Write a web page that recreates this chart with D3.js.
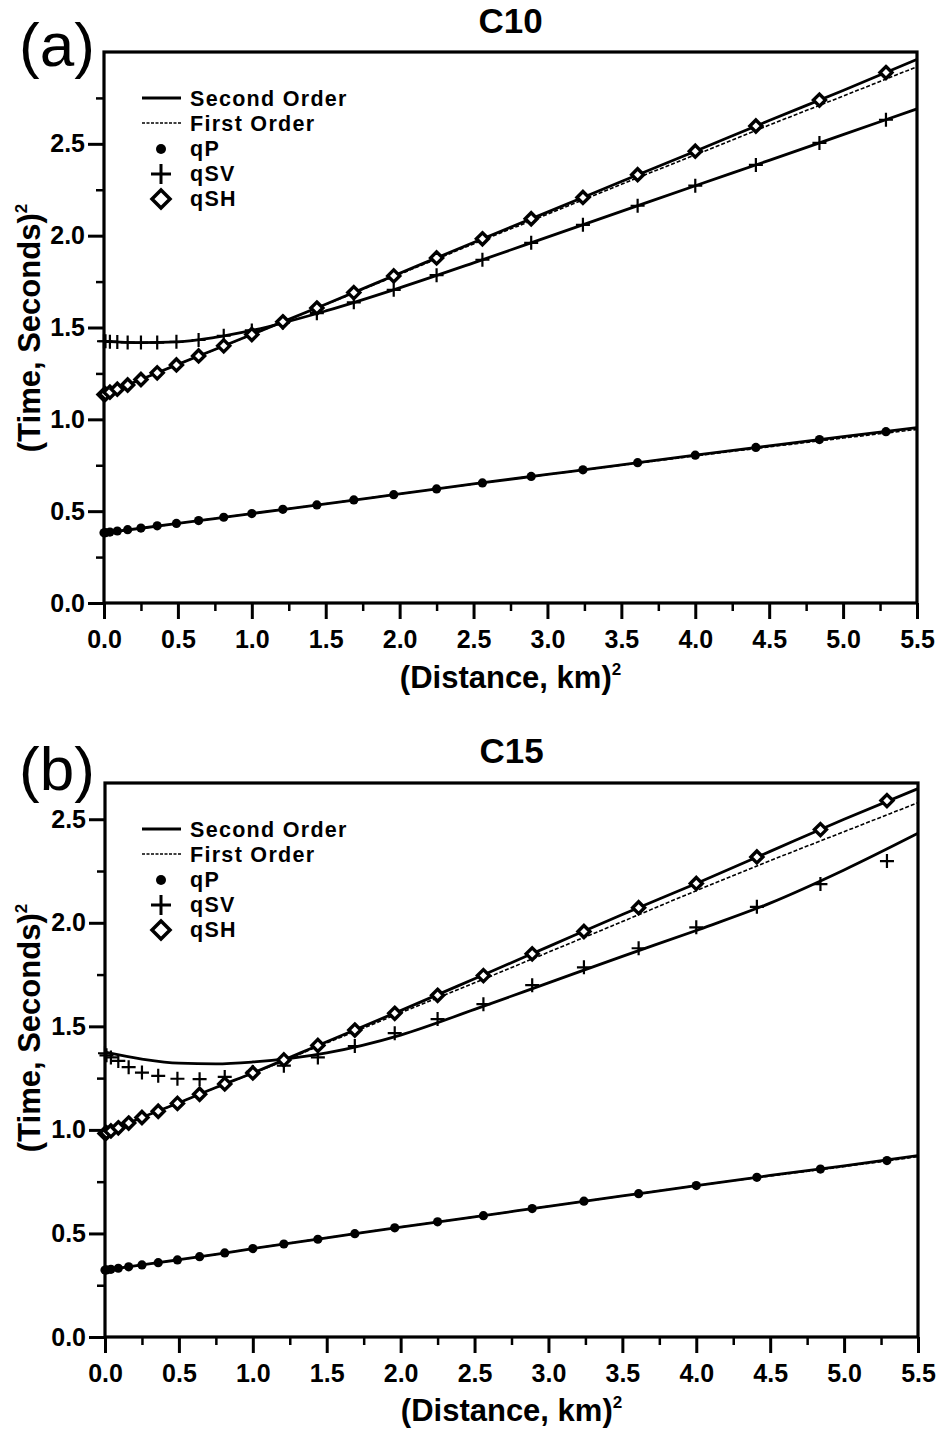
<!DOCTYPE html>
<html>
<head>
<meta charset="utf-8">
<style>
  body { margin: 0; background: #fff; }
  text { font-family: "Liberation Sans", Arial, sans-serif; fill: #000; }
</style>
</head>
<body>
<svg width="938" height="1431"></svg>
<script src="https://d3js.org/d3.v7.min.js"></script>
<script>
  // x positions of modelled traces: (offset, km)^2
  const xMarks = [0, 0.01, 0.04, 0.09, 0.16, 0.25, 0.36, 0.49, 0.64, 0.81, 1.0, 1.21,
    1.44, 1.69, 1.96, 2.25, 2.56, 2.89, 3.24, 3.61, 4.0, 4.41, 4.84, 5.29];
  // x positions where the approximation curves were read
  const xCurve = [0, 0.25, 0.5, 0.75, 1.0, 1.5, 2.0, 2.5, 3.0, 3.5, 4.0, 4.5, 5.0, 5.5];

  const xTicks = [0, 0.5, 1.0, 1.5, 2.0, 2.5, 3.0, 3.5, 4.0, 4.5, 5.0, 5.5];
  const yTicks = [0, 0.5, 1.0, 1.5, 2.0, 2.5];
  const legendItems = ["Second Order", "First Order", "qP", "qSV", "qSH"];

  // ---- C10 ----
  const c10_qP = [0.382, 0.383, 0.386, 0.392, 0.399, 0.408, 0.42, 0.433, 0.449, 0.467, 0.487, 0.51,
    0.534, 0.561, 0.59, 0.621, 0.654, 0.689, 0.725, 0.764, 0.805, 0.847, 0.89, 0.933];
  const c10_qSV = [1.425, 1.425, 1.423, 1.421, 1.419, 1.418, 1.418, 1.422, 1.432, 1.455, 1.484, 1.527,
    1.578, 1.637, 1.705, 1.785, 1.869, 1.961, 2.059, 2.163, 2.272, 2.385, 2.505, 2.631];
  const c10_qSH = [1.135, 1.138, 1.148, 1.164, 1.187, 1.217, 1.253, 1.296, 1.345, 1.40, 1.462, 1.531,
    1.606, 1.69, 1.781, 1.879, 1.983, 2.092, 2.208, 2.332, 2.46, 2.597, 2.738, 2.888];
  const c10_second_qP = [0.382, 0.407, 0.433, 0.46, 0.487, 0.54, 0.594, 0.648, 0.70, 0.752, 0.805, 0.856, 0.906, 0.955];
  const c10_second_qSV = [1.425, 1.418, 1.422, 1.446, 1.484, 1.59, 1.716, 1.852, 1.992, 2.132, 2.272, 2.41, 2.55, 2.69];
  const c10_second_qSH = [1.135, 1.217, 1.299, 1.38, 1.462, 1.627, 1.795, 1.963, 2.128, 2.295, 2.46, 2.627, 2.79, 2.96];
  const c10_first_qP = [0.382, 0.407, 0.433, 0.46, 0.487, 0.54, 0.594, 0.648, 0.70, 0.75, 0.801, 0.85, 0.898, 0.945];
  const c10_first_qSH = [1.135, 1.217, 1.299, 1.38, 1.461, 1.625, 1.79, 1.955, 2.117, 2.28, 2.44, 2.602, 2.76, 2.92];

  // ---- C15 ----
  const c15_qP = [0.323, 0.324, 0.327, 0.332, 0.339, 0.348, 0.359, 0.372, 0.388, 0.406, 0.427, 0.449,
    0.472, 0.499, 0.527, 0.556, 0.586, 0.62, 0.656, 0.692, 0.731, 0.771, 0.811, 0.852];
  const c15_qSV = [1.37, 1.36, 1.35, 1.333, 1.303, 1.277, 1.261, 1.247, 1.245, 1.256, 1.28, 1.31,
    1.35, 1.405, 1.467, 1.535, 1.607, 1.699, 1.785, 1.877, 1.978, 2.077, 2.187, 2.298];
  const c15_qSH = [0.983, 0.986, 0.995, 1.01, 1.033, 1.06, 1.09, 1.128, 1.172, 1.222, 1.275, 1.338,
    1.408, 1.482, 1.563, 1.65, 1.745, 1.85, 1.958, 2.073, 2.19, 2.318, 2.45, 2.59];
  const c15_second_qP = [0.323, 0.348, 0.373, 0.399, 0.427, 0.479, 0.531, 0.58, 0.631, 0.681, 0.731, 0.78, 0.826, 0.876];
  const c15_second_qSV = [1.375, 1.342, 1.322, 1.319, 1.328, 1.372, 1.458, 1.582, 1.71, 1.838, 1.963, 2.095, 2.255, 2.432];
  const c15_second_qSH = [0.983, 1.06, 1.131, 1.205, 1.275, 1.426, 1.576, 1.73, 1.885, 2.04, 2.19, 2.345, 2.5, 2.648];
  const c15_first_qP = [0.323, 0.348, 0.373, 0.399, 0.427, 0.479, 0.531, 0.58, 0.631, 0.681, 0.731, 0.778, 0.823, 0.871];
  const c15_first_qSH = [0.983, 1.06, 1.131, 1.204, 1.273, 1.42, 1.565, 1.71, 1.858, 2.006, 2.155, 2.3, 2.44, 2.58];

  const svg = d3.select("svg");

  const panels = [
    {
      label: "(a)", title: "C10", left: 104, right: 917, top: 52, bottom: 603, yMax: 3.0,
      labelY: 66, titleY: 33, tickLabelY: 648, xTitleY: 688, yTitleMid: 328,
      second: [c10_second_qP, c10_second_qSV, c10_second_qSH],
      first: [c10_first_qP, c10_first_qSH],
      qP: c10_qP, qSV: c10_qSV, qSH: c10_qSH,
    },
    {
      label: "(b)", title: "C15", left: 105, right: 918, top: 783, bottom: 1337, yMax: 2.675,
      labelY: 790, titleY: 763, tickLabelY: 1382, xTitleY: 1421, yTitleMid: 1028,
      second: [c15_second_qP, c15_second_qSV, c15_second_qSH],
      first: [c15_first_qP, c15_first_qSH],
      qP: c15_qP, qSV: c15_qSV, qSH: c15_qSH,
    },
  ];

  const plusPath = (a) => `M${-a},0H${a}M0,${-a}V${a}`;
  const diamondPath = (a) => `M0,${-a}L${a},0L0,${a}L${-a},0Z`;

  panels.forEach((p) => {
    const x = d3.scaleLinear().domain([0, 5.5]).range([p.left, p.right]);
    const y = d3.scaleLinear().domain([0, p.yMax]).range([p.bottom, p.top]);
    const g = svg.append("g");

    // panel letter and title
    g.append("text")
      .attr("x", 19).attr("y", p.labelY)
      .style("font-size", "62px")
      .text(p.label);
    g.append("text")
      .attr("x", (p.left + p.right) / 2).attr("y", p.titleY)
      .attr("text-anchor", "middle")
      .style("font-size", "35px").style("font-weight", "bold")
      .text(p.title);

    // minor ticks
    g.append("g")
      .attr("transform", `translate(0,${p.bottom})`)
      .call(d3.axisBottom(x).tickValues(d3.range(0.25, 5.5, 0.5)).tickSize(8).tickFormat(""))
      .call((a) => a.select(".domain").remove())
      .selectAll("line").attr("stroke-width", 2.5);
    g.append("g")
      .attr("transform", `translate(${p.left},0)`)
      .call(d3.axisLeft(y).tickValues(d3.range(0.25, p.yMax, 0.5)).tickSize(8).tickFormat(""))
      .call((a) => a.select(".domain").remove())
      .selectAll("line").attr("stroke-width", 2.5);

    // major x axis
    const xa = g.append("g")
      .attr("transform", `translate(0,${p.bottom})`)
      .call(d3.axisBottom(x).tickValues(xTicks).tickSize(16).tickPadding(12).tickFormat(d3.format(".1f")));
    xa.select(".domain").remove();
    xa.selectAll("line").attr("stroke-width", 3);
    xa.selectAll("text")
      .attr("dy", null)
      .attr("y", p.tickLabelY - p.bottom)
      .style("font-size", "25px").style("font-weight", "bold")
      .style("font-family", "'Liberation Sans', Arial, sans-serif");

    // major y axis
    const ya = g.append("g")
      .attr("transform", `translate(${p.left},0)`)
      .call(d3.axisLeft(y).tickValues(yTicks).tickSize(16).tickPadding(3).tickFormat(d3.format(".1f")));
    ya.select(".domain").remove();
    ya.selectAll("line").attr("stroke-width", 3);
    ya.selectAll("text")
      .style("font-size", "25px").style("font-weight", "bold")
      .style("font-family", "'Liberation Sans', Arial, sans-serif");

    // frame
    g.append("rect")
      .attr("x", p.left).attr("y", p.top)
      .attr("width", p.right - p.left).attr("height", p.bottom - p.top)
      .attr("fill", "none").attr("stroke", "#000").attr("stroke-width", 3.2);

    // axis titles
    const xt = g.append("text")
      .attr("x", (p.left + p.right) / 2).attr("y", p.xTitleY)
      .attr("text-anchor", "middle")
      .style("font-size", "31px").style("font-weight", "bold")
      .text("(Distance, km)");
    xt.append("tspan").attr("dy", -13).style("font-size", "17px").text("2");

    const yt = g.append("text")
      .attr("transform", `translate(40,${p.yTitleMid}) rotate(-90)`)
      .attr("text-anchor", "middle")
      .style("font-size", "31px").style("font-weight", "bold")
      .text("(Time, Seconds)");
    yt.append("tspan").attr("dy", -13).style("font-size", "17px").text("2");

    // curves
    const line = d3.line()
      .x((d, i) => x(xCurve[i]))
      .y((d) => y(d))
      .curve(d3.curveMonotoneX);

    g.selectAll(".first")
      .data(p.first)
      .join("path")
      .attr("class", "first")
      .attr("d", line)
      .attr("fill", "none").attr("stroke", "#000")
      .attr("stroke-width", 1.6).attr("stroke-dasharray", "4,2");

    g.selectAll(".second")
      .data(p.second)
      .join("path")
      .attr("class", "second")
      .attr("d", line)
      .attr("fill", "none").attr("stroke", "#000").attr("stroke-width", 2.8);

    // markers
    g.selectAll(".qsv")
      .data(p.qSV)
      .join("path")
      .attr("class", "qsv")
      .attr("transform", (d, i) => `translate(${x(xMarks[i])},${y(d)})`)
      .attr("d", plusPath(7))
      .attr("stroke", "#000").attr("stroke-width", 2.2).attr("fill", "none");

    g.selectAll(".qsh")
      .data(p.qSH)
      .join("path")
      .attr("class", "qsh")
      .attr("transform", (d, i) => `translate(${x(xMarks[i])},${y(d)})`)
      .attr("d", diamondPath(6))
      .attr("stroke", "#000").attr("stroke-width", 3.4).attr("fill", "#fff");

    g.selectAll(".qp")
      .data(p.qP)
      .join("circle")
      .attr("class", "qp")
      .attr("cx", (d, i) => x(xMarks[i]))
      .attr("cy", (d) => y(d))
      .attr("r", 4.6)
      .attr("fill", "#000");

    // legend
    const lg = g.append("g").attr("transform", `translate(0,${p.top + 46})`);
    const rowH = 25;
    lg.selectAll("text")
      .data(legendItems)
      .join("text")
      .attr("x", 190)
      .attr("y", (d, i) => i * rowH + 8)
      .style("font-size", "21.5px").style("font-weight", "bold")
      .style("letter-spacing", "1.3px")
      .text((d) => d);
    lg.append("line")
      .attr("x1", 142).attr("x2", 181).attr("y1", 0).attr("y2", 0)
      .attr("stroke", "#000").attr("stroke-width", 2.8);
    lg.append("line")
      .attr("x1", 142).attr("x2", 181).attr("y1", rowH).attr("y2", rowH)
      .attr("stroke", "#000").attr("stroke-width", 1.6).attr("stroke-dasharray", "3,1.5");
    lg.append("circle")
      .attr("cx", 161).attr("cy", 2 * rowH + 1).attr("r", 5).attr("fill", "#000");
    lg.append("path")
      .attr("transform", `translate(161,${3 * rowH + 1})`)
      .attr("d", plusPath(10))
      .attr("stroke", "#000").attr("stroke-width", 3).attr("fill", "none");
    lg.append("path")
      .attr("transform", `translate(161,${4 * rowH + 1})`)
      .attr("d", diamondPath(9))
      .attr("stroke", "#000").attr("stroke-width", 3.5).attr("fill", "#fff");
  });
</script>
</body>
</html>
